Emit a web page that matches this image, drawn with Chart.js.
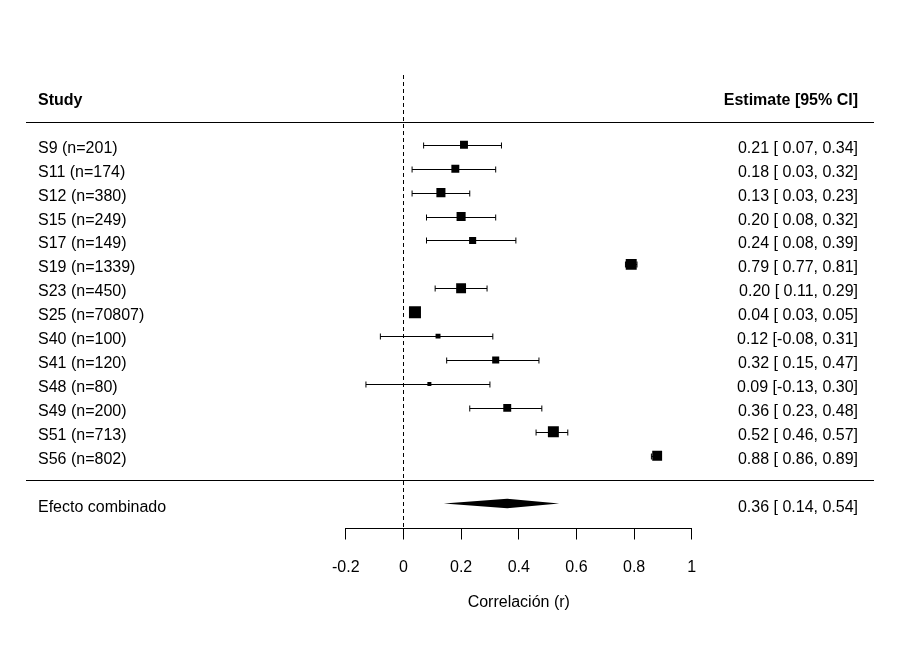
<!DOCTYPE html>
<html>
<head>
<meta charset="utf-8">
<script src="https://cdn.jsdelivr.net/npm/chart.js@4.4.1/dist/chart.umd.min.js"></script>
<style>
  html, body { margin: 0; padding: 0; background: #fff; }
</style>
</head>
<body>
<canvas id="forestChart" width="900" height="650"></canvas>
<script>
// datos del forest plot (de arriba hacia abajo)
const studies = ['S9 (n=201)', 'S11 (n=174)', 'S12 (n=380)', 'S15 (n=249)', 'S17 (n=149)',
    'S19 (n=1339)', 'S23 (n=450)', 'S25 (n=70807)', 'S40 (n=100)', 'S41 (n=120)',
    'S48 (n=80)', 'S49 (n=200)', 'S51 (n=713)', 'S56 (n=802)'];
const estimates = [0.21, 0.18, 0.13, 0.20, 0.24, 0.79, 0.20, 0.04, 0.12, 0.32, 0.09, 0.36, 0.52, 0.88];
const lower = [0.07, 0.03, 0.03, 0.08, 0.08, 0.77, 0.11, 0.03, -0.08, 0.15, -0.13, 0.23, 0.46, 0.86];
const upper = [0.34, 0.32, 0.23, 0.32, 0.39, 0.81, 0.29, 0.05, 0.31, 0.47, 0.30, 0.48, 0.57, 0.89];
const weights = [6.5, 6.5, 6.9, 6.9, 6.2, 7.6, 7.2, 8.0, 5.5, 6.2, 5.2, 6.5, 7.6, 7.2];

const pooledLabel = 'Efecto combinado';
const pooledEst = 0.36;
const pooledLower = 0.14;
const pooledUpper = 0.54;

const xTicks = [-0.2, 0, 0.2, 0.4, 0.6, 0.8, 1];
const headerLeft = 'Study';
const headerRight = 'Estimate [95% CI]';
const xTitle = 'Correlación (r)';

const FONT = '"Liberation Sans", Arial, sans-serif';
const k = studies.length;
const rowOf = i => k - i; // S9 arriba, S56 en la fila 1

// tamaño de los cuadrados ~ sqrt(peso), entre 4 y 12 px
const sw = weights.map(Math.sqrt);
const swMin = Math.min(...sw), swMax = Math.max(...sw);
const boxSize = sw.map(v => 4 + 8 * (v - swMin) / (swMax - swMin));

function fmt(v) { return v.toFixed(2); }
function ciText(est, lo, hi) {
    return fmt(est) + ' [' + (lo < 0 ? '' : ' ') + fmt(lo) + ', ' + fmt(hi) + ']';
}

const forestPlugin = {
    id: 'forest',
    beforeDatasetsDraw(chart) {
        const { ctx, chartArea, scales: { x, y } } = chart;
        ctx.save();
        ctx.strokeStyle = '#000';
        ctx.fillStyle = '#000';
        ctx.lineWidth = 1;

        // línea de referencia en 0
        const x0 = Math.round(x.getPixelForValue(0)) + 0.5;
        ctx.setLineDash([4, 3]);
        ctx.beginPath();
        ctx.moveTo(x0, chartArea.top + 2);
        ctx.lineTo(x0, chartArea.bottom);
        ctx.stroke();
        ctx.setLineDash([]);

        // líneas horizontales (bajo la cabecera y sobre el efecto combinado)
        [k + 0.95, 0].forEach(r => {
            const yy = Math.round(y.getPixelForValue(r)) + 0.5;
            ctx.beginPath();
            ctx.moveTo(chartArea.left, yy);
            ctx.lineTo(chartArea.right, yy);
            ctx.stroke();
        });

        // eje x entre el primer y último tick
        const ax = Math.round(chartArea.bottom) + 0.5;
        const xa = x.getPixelForValue(xTicks[0]);
        const xb = x.getPixelForValue(xTicks[xTicks.length - 1]);
        ctx.beginPath();
        ctx.moveTo(xa, ax);
        ctx.lineTo(xb, ax);
        ctx.stroke();

        // intervalos de confianza
        studies.forEach((s, i) => {
            const yy = Math.round(y.getPixelForValue(rowOf(i))) + 0.5;
            const xl = x.getPixelForValue(lower[i]);
            const xh = x.getPixelForValue(upper[i]);
            ctx.beginPath();
            ctx.moveTo(xl, yy);
            ctx.lineTo(xh, yy);
            ctx.moveTo(xl, yy - 3);
            ctx.lineTo(xl, yy + 3);
            ctx.moveTo(xh, yy - 3);
            ctx.lineTo(xh, yy + 3);
            ctx.stroke();
        });

        // diamante del efecto combinado
        const yp = y.getPixelForValue(-1);
        const h = y.getPixelForValue(-1) - y.getPixelForValue(-1 + 0.2);
        ctx.beginPath();
        ctx.moveTo(x.getPixelForValue(pooledLower), yp);
        ctx.lineTo(x.getPixelForValue(pooledEst), yp - h);
        ctx.lineTo(x.getPixelForValue(pooledUpper), yp);
        ctx.lineTo(x.getPixelForValue(pooledEst), yp + h);
        ctx.closePath();
        ctx.fill();

        // textos
        const left = chartArea.left + 12;
        const right = chartArea.right - 16;
        const base = r => y.getPixelForValue(r) + 8;
        ctx.textBaseline = 'alphabetic';
        ctx.font = 'bold 16px ' + FONT;
        ctx.textAlign = 'left';
        ctx.fillText(headerLeft, left, base(k + 2));
        ctx.textAlign = 'right';
        ctx.fillText(headerRight, right, base(k + 2));

        ctx.font = '16px ' + FONT;
        studies.forEach((s, i) => {
            ctx.textAlign = 'left';
            ctx.fillText(s, left, base(rowOf(i)));
            ctx.textAlign = 'right';
            ctx.fillText(ciText(estimates[i], lower[i], upper[i]), right, base(rowOf(i)));
        });
        ctx.textAlign = 'left';
        ctx.fillText(pooledLabel, left, base(-1));
        ctx.textAlign = 'right';
        ctx.fillText(ciText(pooledEst, pooledLower, pooledUpper), right, base(-1));

        // título del eje, centrado bajo el rango de los ticks
        ctx.textAlign = 'center';
        ctx.fillText(xTitle, (xa + xb) / 2, chartArea.bottom + 79);
        ctx.restore();
    }
};

const ctx = document.getElementById('forestChart').getContext('2d');
const forestChart = new Chart(ctx, {
    type: 'scatter',
    data: {
        datasets: [{
            label: 'Estudios',
            data: estimates.map((v, i) => ({ x: v, y: rowOf(i) })),
            pointStyle: 'rect',
            pointRadius: boxSize.map(s => s / Math.SQRT2),
            pointHoverRadius: boxSize.map(s => s / Math.SQRT2),
            backgroundColor: '#000',
            borderWidth: 0
        }]
    },
    options: {
        responsive: false,
        animation: false,
        devicePixelRatio: 1,
        layout: { padding: { left: 26, right: 26, top: 73, bottom: 0 } },
        plugins: {
            legend: { display: false },
            tooltip: { enabled: false }
        },
        scales: {
            x: {
                type: 'linear',
                min: -1.309,
                max: 1.632,
                afterBuildTicks: scale => { scale.ticks = xTicks.map(v => ({ value: v })); },
                afterFit: scale => { scale.height = 122.5; },
                grid: { drawOnChartArea: false, drawTicks: true, tickLength: 12, color: '#000', lineWidth: 1 },
                border: { display: false },
                ticks: {
                    autoSkip: false,
                    maxRotation: 0,
                    padding: 18,
                    color: '#000',
                    font: { size: 16, family: FONT },
                    callback: v => String(Math.round(v * 10) / 10)
                },
                title: { display: false }
            },
            y: {
                type: 'linear',
                min: -2,
                max: 17,
                display: false
            }
        }
    },
    plugins: [forestPlugin]
});
</script>
</body>
</html>
